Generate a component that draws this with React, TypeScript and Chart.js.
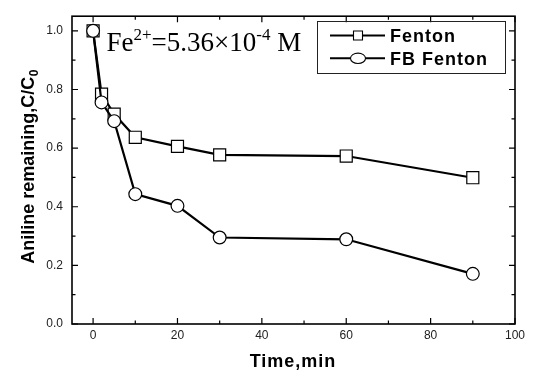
import React, { useEffect, useRef } from "react";
import { Chart, registerables } from "chart.js";

Chart.register(...registerables);

const times = [0, 2, 5, 10, 20, 30, 60, 90];
const fenton = [1.0, 0.784, 0.716, 0.637, 0.606, 0.577, 0.573, 0.499];
const fbFenton = [1.0, 0.756, 0.692, 0.443, 0.403, 0.295, 0.289, 0.171];
const seriesLabels = ["Fenton", "FB Fenton"];
const xMajorTicks = [0, 20, 40, 60, 80, 100];
const xMinorTicks = [10, 30, 50, 70, 90];
const yMajorTicks = [0, 0.2, 0.4, 0.6, 0.8, 1.0];
const yMinorTicks = [0.1, 0.3, 0.5, 0.7, 0.9];
const xTitle = "Time,min";
const yTitle = "Aniline remaining,C/C";
const yTitleSub = "0";
const noteParts = [
  { t: "Fe", sup: false },
  { t: "2+", sup: true },
  { t: "=5.36×10", sup: false },
  { t: "-4", sup: true },
  { t: " M", sup: false },
];

const SANS = "Arial, 'Liberation Sans', sans-serif";
const SERIF = "'Times New Roman', 'Liberation Serif', serif";

const decorPlugin = {
  id: "decor",
  beforeDatasetsDraw(chart: any) {
    const { ctx, chartArea } = chart;
    const { left, right, top, bottom } = chartArea;
    const xs = chart.scales.x;
    const ys = chart.scales.y;
    ctx.save();
    ctx.strokeStyle = "#000";
    ctx.lineWidth = 1.2;
    const major = 6;
    const minor = 3.5;
    ctx.beginPath();
    xMajorTicks.forEach((v) => {
      const p = xs.getPixelForValue(v);
      ctx.moveTo(p, bottom);
      ctx.lineTo(p, bottom - major);
      ctx.moveTo(p, top);
      ctx.lineTo(p, top + major);
    });
    xMinorTicks.forEach((v) => {
      const p = xs.getPixelForValue(v);
      ctx.moveTo(p, bottom);
      ctx.lineTo(p, bottom - minor);
      ctx.moveTo(p, top);
      ctx.lineTo(p, top + minor);
    });
    yMajorTicks.forEach((v) => {
      const p = ys.getPixelForValue(v);
      ctx.moveTo(left, p);
      ctx.lineTo(left + major, p);
      ctx.moveTo(right, p);
      ctx.lineTo(right - major, p);
    });
    yMinorTicks.forEach((v) => {
      const p = ys.getPixelForValue(v);
      ctx.moveTo(left, p);
      ctx.lineTo(left + minor, p);
      ctx.moveTo(right, p);
      ctx.lineTo(right - minor, p);
    });
    ctx.stroke();
    ctx.lineWidth = 1.6;
    ctx.strokeRect(left, top, right - left, bottom - top);
    ctx.restore();
  },
  afterDraw(chart: any) {
    const { ctx } = chart;
    ctx.save();
    ctx.fillStyle = "#000";

    // x title
    ctx.font = `bold 18px ${SANS}`;
    (ctx as any).letterSpacing = "1px";
    ctx.textAlign = "center";
    ctx.textBaseline = "alphabetic";
    ctx.fillText(xTitle, 293, 367);

    // y title
    (ctx as any).letterSpacing = "0px";
    ctx.font = `bold 18px ${SANS}`;
    const w1 = ctx.measureText(yTitle).width;
    ctx.font = `bold 12px ${SANS}`;
    const w2 = ctx.measureText(yTitleSub).width;
    const total = w1 + w2;
    ctx.save();
    ctx.translate(34, 167 + total / 2);
    ctx.rotate(-Math.PI / 2);
    ctx.textAlign = "left";
    ctx.font = `bold 18px ${SANS}`;
    ctx.fillText(yTitle, 0, 0);
    ctx.font = `bold 12px ${SANS}`;
    ctx.fillText(yTitleSub, w1 + 0.5, 4);
    ctx.restore();

    // annotation
    let x = 106.5;
    const base = 51;
    ctx.textAlign = "left";
    noteParts.forEach((p) => {
      ctx.font = p.sup ? `17px ${SERIF}` : `27px ${SERIF}`;
      ctx.fillText(p.t, x, p.sup ? base - 11 : base);
      x += ctx.measureText(p.t).width;
    });

    // legend
    const lx = 317;
    const ly = 21;
    ctx.lineWidth = 1;
    ctx.strokeStyle = "#222";
    ctx.strokeRect(lx + 0.5, ly + 0.5, 188, 52);
    const rows = [35.5, 58.3];
    chart.data.datasets.forEach((ds: any, i: number) => {
      const ry = rows[i];
      ctx.strokeStyle = "#000";
      ctx.lineWidth = 2;
      ctx.beginPath();
      ctx.moveTo(330, ry);
      ctx.lineTo(385, ry);
      ctx.stroke();
      ctx.fillStyle = "#fff";
      ctx.lineWidth = 1.1;
      ctx.beginPath();
      if (ds.pointStyle === "rect") {
        ctx.rect(358 - 4.5, ry - 4.5, 9, 9);
      } else {
        ctx.ellipse(358, ry, 7.5, 5.2, 0, 0, Math.PI * 2);
      }
      ctx.fill();
      ctx.stroke();
      ctx.fillStyle = "#000";
      ctx.font = `bold 18px ${SANS}`;
      (ctx as any).letterSpacing = "1px";
      ctx.textAlign = "left";
      ctx.textBaseline = "alphabetic";
      ctx.fillText(ds.label, 390, ry + 6.5);
      (ctx as any).letterSpacing = "0px";
    });
    ctx.restore();
  },
};

export default function App() {
  const ref = useRef<HTMLCanvasElement | null>(null);
  useEffect(() => {
    if (!ref.current) return;
    const mk = (vals: number[]) => times.map((t, i) => ({ x: t, y: vals[i] }));
    const chart = new Chart(ref.current, {
      type: "line",
      data: {
        datasets: [
          {
            label: seriesLabels[0],
            data: mk(fenton),
            borderColor: "#000",
            borderWidth: 2.2,
            pointStyle: "rect",
            pointRadius: 8.5,
            pointBackgroundColor: "#fff",
            pointBorderColor: "#000",
            pointBorderWidth: 1.2,
            tension: 0,
            order: 1,
            clip: false as any,
          },
          {
            label: seriesLabels[1],
            data: mk(fbFenton),
            borderColor: "#000",
            borderWidth: 2.2,
            pointStyle: "circle",
            pointRadius: 6.4,
            pointBackgroundColor: "#fff",
            pointBorderColor: "#000",
            pointBorderWidth: 1.2,
            tension: 0,
            order: 0,
            clip: false as any,
          },
        ],
      },
      options: {
        responsive: false,
        animation: false,
        layout: { padding: { top: 8, right: 18, left: 0, bottom: 0 } },
        plugins: { legend: { display: false }, tooltip: { enabled: false } },
        scales: {
          x: {
            type: "linear",
            min: -5,
            max: 100,
            grid: { display: false, drawTicks: false },
            border: { display: false },
            afterBuildTicks: (s: any) => {
              s.ticks = xMajorTicks.map((v) => ({ value: v }));
            },
            afterFit: (s: any) => {
              s.height = 50;
            },
            ticks: {
              padding: 4,
              color: "#222",
              font: { family: SANS, size: 12 },
              callback: (v: any) => String(v),
              maxRotation: 0,
            },
          },
          y: {
            type: "linear",
            min: 0,
            max: 1.05,
            grid: { display: false, drawTicks: false },
            border: { display: false },
            afterBuildTicks: (s: any) => {
              s.ticks = yMajorTicks.map((v) => ({ value: v }));
            },
            afterFit: (s: any) => {
              s.width = 72;
            },
            ticks: {
              padding: 9,
              color: "#222",
              font: { family: SANS, size: 12 },
              callback: (v: any) => Number(v).toFixed(1),
            },
          },
        },
      },
      plugins: [decorPlugin],
    });
    return () => chart.destroy();
  }, []);
  return (
    <div style={{ position: "fixed", left: 0, top: 0, width: 533, height: 374, background: "#fff" }}>
      <canvas ref={ref} width={533} height={374} style={{ display: "block" }} />
    </div>
  );
}
